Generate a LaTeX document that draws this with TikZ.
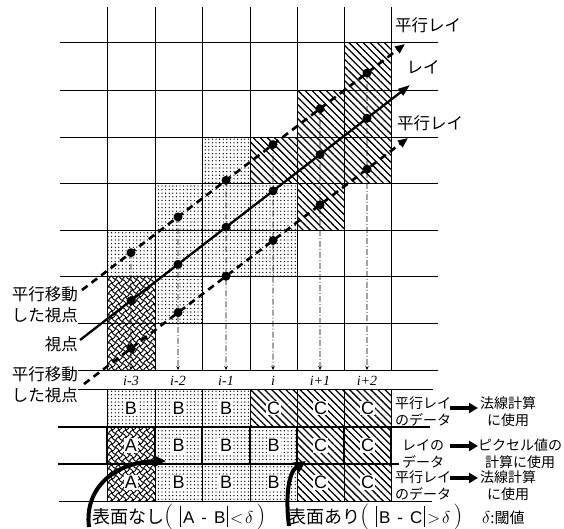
\documentclass[tikz,border=0pt]{standalone}
\usepackage{fontspec}
\newfontfamily\jp{Noto Sans CJK JP}
\newfontfamily\lat{Liberation Sans}
\newfontfamily\tms{Liberation Serif}
\usetikzlibrary{patterns,patterns.meta,arrows.meta}

\pgfdeclarepatternformonly{wavymesh}{\pgfqpoint{-1pt}{-1pt}}{\pgfqpoint{8pt}{8pt}}{\pgfqpoint{7pt}{7pt}}{
  \pgfsetlinewidth{0.9pt}
  \pgfpathmoveto{\pgfqpoint{0pt}{0pt}}
  \pgfpathcurveto{\pgfqpoint{4.5pt}{1pt}}{\pgfqpoint{2.5pt}{6pt}}{\pgfqpoint{7pt}{7pt}}
  \pgfpathmoveto{\pgfqpoint{0pt}{7pt}}
  \pgfpathcurveto{\pgfqpoint{1pt}{2.5pt}}{\pgfqpoint{6pt}{4.5pt}}{\pgfqpoint{7pt}{0pt}}
  \pgfusepath{stroke}
}

\tikzset{
  gridline/.style={line width=0.9pt},
  boldline/.style={line width=1.8pt},
  dotcell/.style={pattern={Dots[distance=3.6pt,radius=0.7pt]}},
  hatchcell/.style={pattern={Lines[angle=-45,distance=5pt,line width=1.3pt]}},
  wavecell/.style={pattern=wavymesh},
  mainray/.style={line width=2.3pt,-{Triangle[length=12pt,width=8pt]}},
  pray/.style={line width=2.6pt,dash pattern=on 7pt off 5pt,-{Triangle[length=10pt,width=8pt]}},
  raydot/.style={circle,fill=black,inner sep=0pt,minimum size=9pt},
  drop/.style={line width=0.6pt,dash pattern=on 6pt off 2pt on 1pt off 2pt,-{Stealth[length=4pt,width=3.5pt]}},
  jbig/.style={font=\jp\fontsize{16.5}{21}\selectfont,inner sep=0pt},
  jsmall/.style={font=\jp\fontsize{14}{17}\selectfont,inner sep=0pt},
  idx/.style={font=\tms\itshape\fontsize{14}{14}\selectfont,inner sep=0pt},
  letter/.style={font=\lat\fontsize{18}{18}\selectfont,fill=white,inner sep=1pt},
  fatarrow/.style={line width=3.5pt,-{Triangle[length=9pt,width=10pt]}},
  curvearrow/.style={line width=4pt,-{Triangle[length=12pt,width=11pt]}},
}

\begin{document}
\begin{tikzpicture}[x=1pt,y=-1pt]
\useasboundingbox (0,0) rectangle (564,528);

% ---- shaded cells of the grid
\fill[wavecell] (107,276) rectangle (155,370);
\fill[dotcell] (107,230) rectangle (155,276);
\fill[dotcell] (155,183) rectangle (202,323);
\fill[dotcell] (202,137) rectangle (250,276);
\fill[dotcell] (250,183) rectangle (297,276);
\fill[hatchcell] (250,137) rectangle (297,183);
\fill[hatchcell] (297,90) rectangle (344,230);
\fill[hatchcell] (344,42) rectangle (391,183);

% ---- grid
\foreach \y in {42,90,137,183,230,276} \draw[gridline] (60,\y) -- (438,\y);
\foreach \y in {323,370} \draw[gridline] (78,\y) -- (438,\y);
\foreach \x in {107,155,202,250,297,344,391} \draw[gridline] (\x,7) -- (\x,370);

% ---- ray end points
\coordinate (u0) at (82,290);  \coordinate (u1) at (405,44);
\coordinate (m0) at (80,340);  \coordinate (m1) at (410,85);
\coordinate (l0) at (84,384);  \coordinate (l1) at (408,138);

\foreach \i/\cx in {0/131,1/178,2/226,3/273,4/320,5/367}{
  \coordinate (ct\i) at (\cx,0);
  \coordinate (cb\i) at (\cx,370);
}

% ---- sample points
\foreach \i in {0,...,5}{
  \node[raydot] (ud\i) at (intersection of u0--u1 and ct\i--cb\i) {};
  \node[raydot] (md\i) at (intersection of m0--m1 and ct\i--cb\i) {};
  \node[raydot] (ld\i) at (intersection of l0--l1 and ct\i--cb\i) {};
  \draw[drop] (ud\i.center) -- (cb\i);
}

% ---- rays
\draw[pray] (u0) -- (u1);
\draw[mainray] (m0) -- (m1);
\draw[pray] (l0) -- (l1);

% ---- labels on the grid
\node[jbig] (tU) at (428,25) {平行レイ};
\node[jbig] (tM) at (423,67) {レイ};
\node[jbig] (tL) at (430,123) {平行レイ};
\node[jbig,anchor=east,align=right] (vU) at (78,305) {平行移動\\した視点};
\node[jbig,anchor=east] (vM) at (78,344) {視点};
\node[jbig,anchor=east,align=right] (vL) at (78,385) {平行移動\\した視点};

\node[idx] (i0) at (131,381) {i-3};
\node[idx] (i1) at (178,381) {i-2};
\node[idx] (i2) at (226,381) {i-1};
\node[idx] (i3) at (273,381) {i};
\node[idx] (i4) at (320,381) {i+1};
\node[idx] (i5) at (367,381) {i+2};

% ---- data table
\fill[dotcell] (107,389) rectangle (250,427);
\fill[hatchcell] (250,389) rectangle (391,427);
\fill[wavecell] (107,427) rectangle (155,501);
\fill[dotcell] (155,427) rectangle (297,501);
\fill[hatchcell] (297,427) rectangle (391,501);

\draw[gridline] (78,389) -- (433,389);
\draw[gridline] (59,501) -- (432,501);
\foreach \x in {107,155,202,250,297,344,391}{
  \draw[gridline] (\x,389) -- (\x,427);
  \draw[gridline] (\x,464) -- (\x,501);
  \draw[boldline] (\x,427) -- (\x,464);
}
\draw[boldline] (58,427) -- (430,427);
\draw[boldline] (58,464) -- (399,464);

\foreach \c/\x in {0/131,1/178.5,2/226,3/273.5,4/320.5,5/367.5}{
  \coordinate (r1c\c) at (\x,408);
  \coordinate (r2c\c) at (\x,445.5);
  \coordinate (r3c\c) at (\x,482.5);
}
\node[letter] (B10) at (r1c0) {B};
\node[letter] (B11) at (r1c1) {B};
\node[letter] (B12) at (r1c2) {B};
\node[letter] (C13) at (r1c3) {C};
\node[letter] (C14) at (r1c4) {C};
\node[letter] (C15) at (r1c5) {C};
\node[letter] (A20) at (r2c0) {A};
\node[letter] (B21) at (r2c1) {B};
\node[letter] (B22) at (r2c2) {B};
\node[letter] (B23) at (r2c3) {B};
\node[letter] (C24) at (r2c4) {C};
\node[letter] (C25) at (r2c5) {C};
\node[letter] (A30) at (r3c0) {A};
\node[letter] (B31) at (r3c1) {B};
\node[letter] (B32) at (r3c2) {B};
\node[letter] (B33) at (r3c3) {B};
\node[letter] (C34) at (r3c4) {C};
\node[letter] (C35) at (r3c5) {C};

% ---- right labels
\node[jsmall,anchor=west,align=left] (d1) at (395,411.5) {平行レイ\\のデータ};
\node[jsmall,anchor=west,align=left] (d2) at (402,454) {レイの\\データ};
\node[jsmall,anchor=west,align=left] (d3) at (395,485.5) {平行レイ\\のデータ};
\node[jsmall,align=center] (u1t) at (508,412) {法線計算\\に使用};
\node[jsmall,align=center] (u2t) at (520,454) {ピクセル値の\\計算に使用};
\node[jsmall,align=center] (u3t) at (508,486) {法線計算\\に使用};
\coordinate (a1s) at (450,408); \coordinate (a1e) at (478,408);
\coordinate (a2s) at (450,446); \coordinate (a2e) at (478,446);
\coordinate (a3s) at (450,478); \coordinate (a3e) at (478,478);
\draw[fatarrow] (a1s) -- (a1e);
\draw[fatarrow] (a2s) -- (a2e);
\draw[fatarrow] (a3s) -- (a3e);

% ---- bottom formulas
\node[anchor=base west,inner sep=0pt] (f1) at (92,523) {\jp\fontsize{18}{18}\selectfont 表面なし{\rmfamily\fontsize{26}{26}\selectfont(}\hspace{7pt}\rule[-4pt]{0.7pt}{21pt}{\lat\fontsize{17}{17}\selectfont\hspace{2pt}A\hspace{7pt}-\hspace{7pt}B}\hspace{2pt}\rule[-4pt]{0.7pt}{21pt}\hspace{2pt}{\rmfamily\fontsize{17}{17}\selectfont$<\!\delta$}\hspace{3pt}{\rmfamily\fontsize{26}{26}\selectfont)}};
\node[anchor=base west,inner sep=0pt] (f2) at (288,523) {\jp\fontsize{18}{18}\selectfont 表面あり{\rmfamily\fontsize{26}{26}\selectfont(}\hspace{7pt}\rule[-4pt]{0.7pt}{21pt}{\lat\fontsize{17}{17}\selectfont\hspace{2pt}B\hspace{7pt}-\hspace{7pt}C}\hspace{2pt}\rule[-4pt]{0.7pt}{21pt}\hspace{2pt}{\rmfamily\fontsize{17}{17}\selectfont$>\!\delta$}\hspace{3pt}{\rmfamily\fontsize{26}{26}\selectfont)}};
\node[anchor=base west,inner sep=0pt] (f3) at (482,523) {{\rmfamily\fontsize{17}{17}\selectfont$\delta$}{\jp\fontsize{15}{15}\selectfont :閾値}};

\coordinate (k1s) at (89,527); \coordinate (k1e) at (166,461);
\coordinate (k2s) at (289,526); \coordinate (k2e) at (306,461);
\draw[curvearrow] (k1s) .. controls (84,488) and (115,462) .. (k1e);
\draw[curvearrow] (k2s) .. controls (285,495) and (289,472) .. (k2e);
\end{tikzpicture}
\end{document}
